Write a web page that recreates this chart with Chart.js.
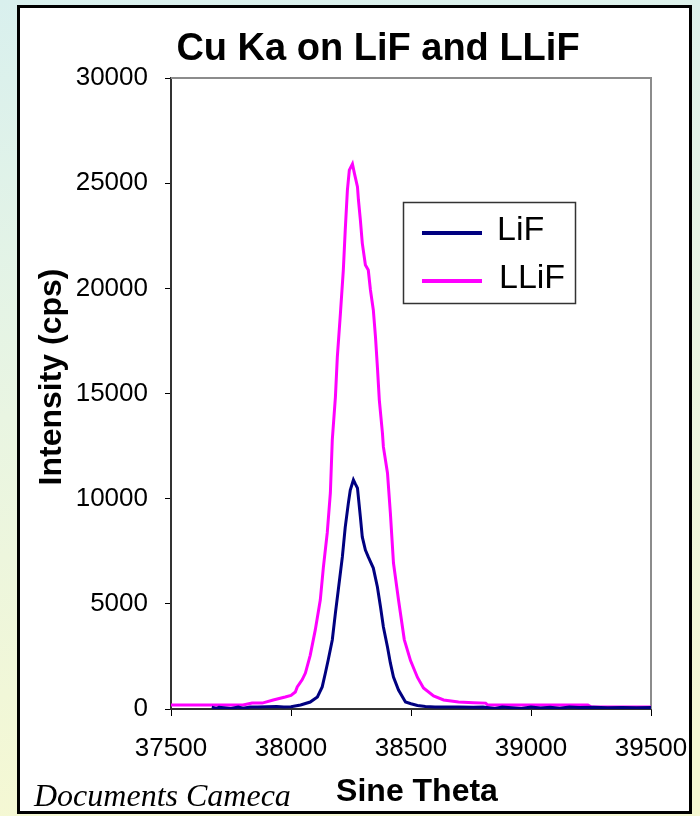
<!DOCTYPE html>
<html>
<head>
<meta charset="utf-8">
<script src="https://cdn.jsdelivr.net/npm/chart.js@4.4.1/dist/chart.umd.min.js"></script>
<style>
  html, body { margin: 0; padding: 0; overflow: hidden; }
  canvas { display: block; }
</style>
</head>
<body>
<canvas id="myChart" width="700" height="816"></canvas>
<script>
// series
const lifTheta = [37670, 37690, 37700, 37720, 37750, 37780, 37800, 37830, 37860, 37900, 37940, 37970, 38000, 38040, 38080, 38110, 38130, 38143, 38155, 38172, 38185, 38197, 38214, 38226, 38239, 38247, 38260, 38268, 38277, 38289, 38297, 38310, 38322, 38343, 38360, 38373, 38385, 38402, 38414, 38427, 38448, 38477, 38500, 38527, 38560, 38600, 38650, 38700, 38760, 38800, 38850, 38880, 38920, 38960, 39000, 39040, 39080, 39120, 39160, 39200, 39260, 39320, 39380, 39440, 39500];
const lifCounts = [90, 30, 80, 60, 20, 90, 40, 90, 100, 110, 120, 100, 110, 190, 330, 570, 1050, 1700, 2330, 3280, 4560, 5660, 7230, 8650, 9790, 10410, 10890, 10700, 10500, 9130, 8180, 7560, 7230, 6700, 5800, 4850, 3900, 2950, 2190, 1520, 900, 330, 250, 170, 120, 100, 90, 100, 80, 90, 30, 90, 60, 20, 90, 50, 80, 40, 90, 70, 80, 60, 70, 60, 70];

const llifTheta = [37500, 37600, 37700, 37800, 37838, 37880, 37926, 37976, 38000, 38018, 38026, 38047, 38060, 38080, 38101, 38122, 38135, 38151, 38164, 38172, 38185, 38193, 38206, 38218, 38226, 38235, 38243, 38256, 38264, 38277, 38281, 38289, 38297, 38310, 38322, 38331, 38343, 38352, 38360, 38368, 38381, 38385, 38402, 38414, 38427, 38448, 38472, 38498, 38527, 38552, 38594, 38636, 38698, 38760, 38811, 38820, 38900, 39000, 39100, 39237, 39250, 39350, 39500];
const llifCounts = [190, 190, 190, 190, 280, 280, 430, 570, 650, 810, 1050, 1400, 1710, 2550, 3750, 5180, 6750, 8370, 10270, 12790, 14830, 16730, 18820, 20870, 22770, 24670, 25620, 25910, 25480, 24820, 24200, 23250, 22150, 21110, 20870, 19920, 18970, 17690, 16260, 14690, 13120, 12460, 11220, 9320, 6940, 5180, 3300, 2300, 1500, 1000, 620, 430, 330, 300, 280, 190, 190, 190, 190, 190, 100, 100, 100];

const xTickValues = [37500, 38000, 38500, 39000, 39500];
const yTickValues = [0, 5000, 10000, 15000, 20000, 25000, 30000];
const seriesNames = ['LiF', 'LLiF'];
const seriesColors = ['#000080', '#ff00ff'];

const sans = "'Liberation Sans', Arial, sans-serif";

function toPoints(xs, ys) {
  return xs.map((x, i) => ({ x: x, y: ys[i] }));
}

// slide background, white panel, titles, credit and legend box
const decorations = {
  id: 'decorations',
  beforeDraw(chart) {
    const ctx = chart.ctx;
    const g = ctx.createLinearGradient(0, 0, 120, 816);
    g.addColorStop(0, '#d9f0ee');
    g.addColorStop(0.5, '#e9f5e2');
    g.addColorStop(1, '#f5f8d3');
    ctx.save();
    ctx.fillStyle = g;
    ctx.fillRect(0, 0, 700, 816);
    ctx.fillStyle = '#ffffff';
    ctx.fillRect(17, 5, 675, 809);
    ctx.strokeStyle = '#000000';
    ctx.lineWidth = 3;
    ctx.strokeRect(18.5, 6.5, 672, 806);
    ctx.restore();
  },
  beforeDatasetsDraw(chart) {
    const {ctx, chartArea} = chart;
    ctx.save();
    ctx.strokeStyle = '#8c8c8c';
    ctx.lineWidth = 2;
    ctx.beginPath();
    ctx.moveTo(chartArea.left, chartArea.top);
    ctx.lineTo(chartArea.right, chartArea.top);
    ctx.lineTo(chartArea.right, chartArea.bottom);
    ctx.stroke();
    ctx.restore();
  },
  afterDraw(chart) {
    const ctx = chart.ctx;
    ctx.save();
    ctx.fillStyle = '#000000';
    ctx.textAlign = 'center';
    ctx.textBaseline = 'alphabetic';
    ctx.font = 'bold 38px ' + sans;
    ctx.fillText('Cu Ka on LiF and LLiF', 378, 60);

    // axis titles
    ctx.font = 'bold 32px ' + sans;
    ctx.textBaseline = 'middle';
    ctx.fillText('Sine Theta', 417, 792);
    ctx.save();
    ctx.translate(52, 377);
    ctx.rotate(-Math.PI / 2);
    ctx.fillText('Intensity (cps)', 0, 0);
    ctx.restore();

    ctx.textAlign = 'left';
    ctx.textBaseline = 'alphabetic';
    ctx.font = "italic 32px 'Liberation Serif', 'Times New Roman', serif";
    ctx.fillText('Documents Cameca', 34, 806);

    // legend
    ctx.fillStyle = '#ffffff';
    ctx.fillRect(403, 202, 172, 101);
    ctx.strokeStyle = '#333333';
    ctx.lineWidth = 1.5;
    ctx.strokeRect(403.5, 202.5, 172, 101);
    ctx.font = '34px ' + sans;
    ctx.textBaseline = 'middle';
    const rows = [231, 279];
    const textX = [497, 499];
    chart.data.datasets.forEach((ds, i) => {
      ctx.strokeStyle = ds.borderColor;
      ctx.lineWidth = 4;
      ctx.beginPath();
      ctx.moveTo(422, rows[i] + 2);
      ctx.lineTo(482, rows[i] + 2);
      ctx.stroke();
      ctx.fillStyle = '#000000';
      ctx.fillText(ds.label, textX[i], rows[i]);
    });
    ctx.restore();
  }
};

const ctx = document.getElementById('myChart');
new Chart(ctx, {
  type: 'line',
  data: {
    datasets: [
      {
        label: seriesNames[0],
        data: toPoints(lifTheta, lifCounts),
        borderColor: seriesColors[0],
        borderWidth: 3,
        pointRadius: 0,
        tension: 0,
        fill: false
      },
      {
        label: seriesNames[1],
        data: toPoints(llifTheta, llifCounts),
        borderColor: seriesColors[1],
        borderWidth: 3,
        pointRadius: 0,
        tension: 0,
        fill: false
      }
    ]
  },
  options: {
    responsive: false,
    animation: false,
    devicePixelRatio: 1,
    layout: {
      padding: { left: 33, top: 78, right: 49, bottom: 5 }
    },
    plugins: {
      legend: { display: false },
      title: { display: false },
      tooltip: { enabled: false }
    },
    scales: {
      x: {
        type: 'linear',
        min: 37500,
        max: 39500,
        afterBuildTicks: (scale) => {
          scale.ticks = xTickValues.map(v => ({ value: v }));
        },
        afterFit: (scale) => {
          scale.height = 102;
          scale.paddingLeft = 0;
          scale.paddingRight = 0;
        },
        ticks: {
          padding: 17,
          color: '#000000',
          font: { family: sans, size: 26 },
          maxRotation: 0,
          callback: (v) => String(v)
        },
        grid: {
          drawOnChartArea: false,
          drawTicks: true,
          tickLength: 7,
          color: '#000000'
        },
        border: { display: true, color: '#333333', width: 2 },
        title: { display: false }
      },
      y: {
        min: 0,
        max: 30000,
        afterBuildTicks: (scale) => {
          scale.ticks = yTickValues.map(v => ({ value: v }));
        },
        afterFit: (scale) => { scale.width = 138; },
        ticks: {
          padding: 17,
          color: '#000000',
          font: { family: sans, size: 26 },
          callback: (v) => String(v)
        },
        grid: {
          drawOnChartArea: false,
          drawTicks: true,
          tickLength: 6,
          color: '#000000'
        },
        border: { display: true, color: '#333333', width: 2 },
        title: { display: false }
      }
    }
  },
  plugins: [decorations]
});
</script>
</body>
</html>
